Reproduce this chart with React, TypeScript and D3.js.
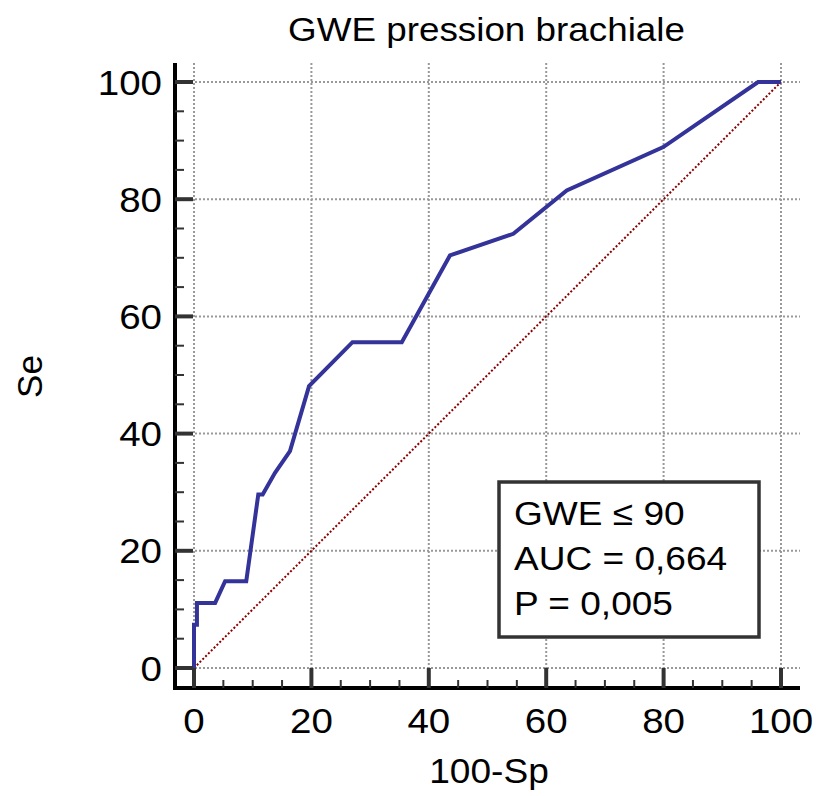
import React from "react";
import * as d3 from "d3";

const title = "GWE pression brachiale";
const xLabel = "100-Sp";
const yLabel = "Se";
const rocX = [0, 0, 0.5, 0.5, 3.6, 5.3, 8.9, 10.95, 11.7, 13.8, 16.35, 19.6, 27.0, 35.4, 43.6, 54.4, 63.5, 79.95, 96.1, 100];
const rocY = [0, 7.4, 7.4, 11.1, 11.1, 14.8, 14.8, 29.6, 29.6, 33.3, 37.0, 48.1, 55.6, 55.6, 70.4, 74.1, 81.5, 88.9, 100, 100];
const majorTicks = [0, 20, 40, 60, 80, 100];
const minorTicks = d3.range(0, 101, 5).filter((v) => v % 20 !== 0);
const legendLines = ["GWE \u2264 90", "AUC = 0,664", "P = 0,005"];

const FONT = "'Liberation Sans', Arial, Helvetica, sans-serif";

function T(props: { x: number; y: number; sx?: number; size: number; anchor?: string; rotate?: number; children: any }) {
  const { x, y, sx = 1, size, anchor = "start", rotate = 0, children } = props;
  return (
    <text
      transform={`translate(${x},${y})${rotate ? ` rotate(${rotate})` : ""} scale(${sx},1)`}
      textAnchor={anchor}
      fontSize={size}
      fill="#000"
    >
      {children}
    </text>
  );
}

export default function App() {
  const W = 816, H = 796;
  const x = d3.scaleLinear().domain([0, 100]).range([194, 781]);
  const y = d3.scaleLinear().domain([0, 100]).range([668, 82]);
  const left = 175, right = 800, top = 63, bottom = 688;

  const pts: [number, number][] = rocX.map((v, i) => [v, rocY[i]]);
  const line = d3.line<[number, number]>().x((d) => x(d[0])).y((d) => y(d[1]));

  return (
    <svg width={W} height={H} style={{ position: "absolute", left: 0, top: 0, background: "#fff" }} fontFamily={FONT}>
      <rect x={0} y={0} width={W} height={H} fill="#fff" />
      <text x={486.5} y={41} textAnchor="middle" fontSize={33} fill="#000" textLength={397} lengthAdjust="spacingAndGlyphs">{title}</text>

      {/* grid */}
      {majorTicks.map((t) => (
        <line key={"gx" + t} x1={x(t)} x2={x(t)} y1={top} y2={bottom} stroke="#999" strokeWidth={2} strokeDasharray="2 2" />
      ))}
      {majorTicks.map((t) => (
        <line key={"gy" + t} x1={left} x2={right} y1={y(t)} y2={y(t)} stroke="#999" strokeWidth={2} strokeDasharray="2 2" />
      ))}

      {/* diagonal */}
      <line x1={x(0)} y1={y(0)} x2={x(100)} y2={y(100)} stroke="#8b0000" strokeWidth={2} strokeDasharray="2 2" />

      {/* ROC curve */}
      <path d={line(pts) || ""} fill="none" stroke="#333399" strokeWidth={4} strokeLinejoin="miter" />

      {/* axes */}
      <line x1={left} x2={left} y1={top} y2={bottom + 2} stroke="#000" strokeWidth={4} />
      <line x1={left - 2} x2={right} y1={bottom} y2={bottom} stroke="#000" strokeWidth={4} />
      {majorTicks.map((t) => (
        <line key={"ty" + t} x1={left} x2={left + 18} y1={y(t)} y2={y(t)} stroke="#333" strokeWidth={4} />
      ))}
      {minorTicks.map((t) => (
        <line key={"mty" + t} x1={left} x2={left + 9} y1={y(t)} y2={y(t)} stroke="#333" strokeWidth={2} />
      ))}
      {majorTicks.map((t) => (
        <line key={"tx" + t} x1={x(t)} x2={x(t)} y1={bottom} y2={bottom - 20} stroke="#333" strokeWidth={4} />
      ))}
      {minorTicks.map((t) => (
        <line key={"mtx" + t} x1={x(t)} x2={x(t)} y1={bottom} y2={bottom - 8} stroke="#333" strokeWidth={2} />
      ))}

      {/* tick labels */}
      {majorTicks.map((t) => (
        <T key={"ly" + t} x={162} y={y(t) + 12.5} sx={1.1} size={35} anchor="end">{t}</T>
      ))}
      {majorTicks.map((t) => (
        <T key={"lx" + t} x={x(t)} y={733} sx={1.1} size={35} anchor="middle">{t}</T>
      ))}

      <T x={489} y={783} sx={1.06} size={35} anchor="middle">{xLabel}</T>
      <T x={41.5} y={376.5} size={35} anchor="middle" rotate={-90}>{yLabel}</T>

      {/* legend */}
      <rect x={499} y={482} width={260} height={155} fill="#fff" stroke="#333" strokeWidth={3.5} />
      {legendLines.map((s, i) => (
        <T key={"lg" + i} x={514} y={525 + i * 45} sx={1.09} size={34}>{s}</T>
      ))}
    </svg>
  );
}
